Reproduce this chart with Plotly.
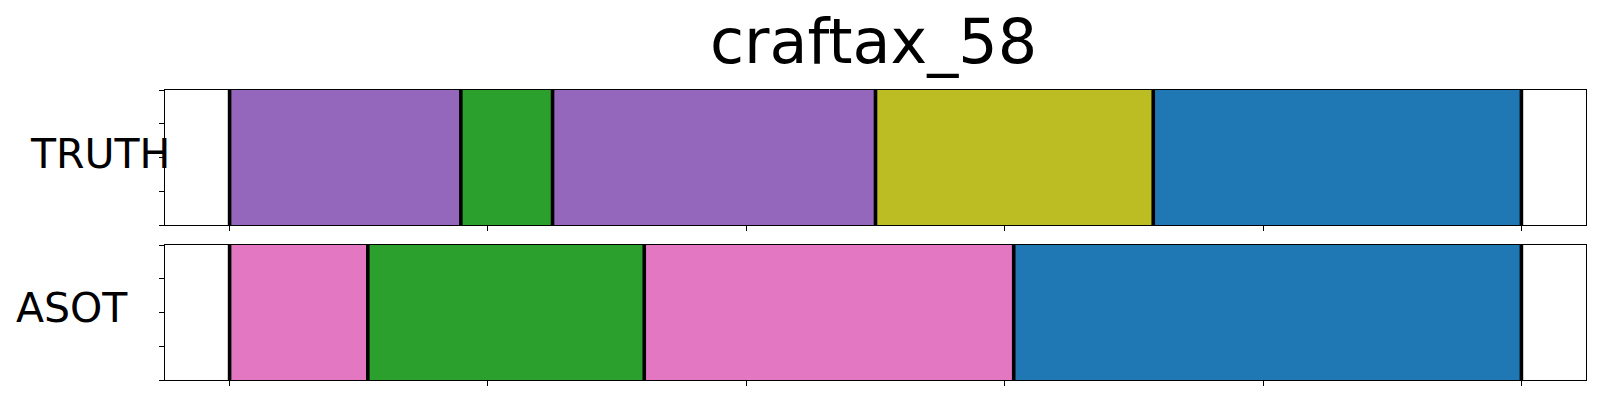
import plotly.graph_objects as go
from plotly.subplots import make_subplots

# Data: segment boundaries (in frame units) and labels for each row
rows = ["TRUTH", "ASOT"]
truth_bounds = [0, 17.9, 25.0, 50.0, 71.5, 100]
truth_colors = ["#9467bd", "#2ca02c", "#9467bd", "#bcbd22", "#1f77b4"]
asot_bounds = [0, 10.7, 32.1, 60.7, 100]
asot_colors = ["#e377c2", "#2ca02c", "#e377c2", "#1f77b4"]
x_ticks = [0, 20, 40, 60, 80, 100]
y_ticks = [0, 0.25, 0.5, 0.75, 1.0]
title = "craftax_58"

W, H = 1600, 400
ml, mr, mt, mb = 165, 14, 90, 20
plot_h = H - mt - mb
pw = W - ml - mr

fig = make_subplots(rows=2, cols=1, vertical_spacing=20 / plot_h)

def add_row(bounds, colors, row):
    starts = bounds[:-1]
    lens = [b - a for a, b in zip(bounds[:-1], bounds[1:])]
    fig.add_trace(go.Bar(
        y=[0.5] * len(starts), x=lens, base=starts, orientation="h",
        width=1.0, marker=dict(color=colors, line=dict(width=0)),
        showlegend=False, hoverinfo="skip"), row=row, col=1)
    lx, ly = [], []
    for b in bounds:
        lx += [b, b, None]
        ly += [0, 1, None]
    fig.add_trace(go.Scatter(x=lx, y=ly, mode="lines",
                             line=dict(color="black", width=3.6),
                             showlegend=False, hoverinfo="skip"), row=row, col=1)

add_row(truth_bounds, truth_colors, 1)
add_row(asot_bounds, asot_colors, 2)

axis_common = dict(showline=True, mirror=True, linecolor="black", linewidth=1.3,
                   showgrid=False, zeroline=False, ticks="outside", ticklen=5,
                   tickwidth=1, tickcolor="black", showticklabels=False)
for r in (1, 2):
    fig.update_xaxes(range=[-5, 105], tickvals=x_ticks, row=r, col=1, **axis_common)
    fig.update_yaxes(range=[0, 1], tickvals=y_ticks, row=r, col=1, **axis_common)

label_pos = [(28, 154), (14, 308)]
annotations = []
for text, (px, py) in zip(rows, label_pos):
    annotations.append(dict(text=text, x=(px - ml) / pw, y=(H - mb - py) / plot_h,
                            xref="paper", yref="paper", xanchor="left", yanchor="middle",
                            showarrow=False,
                            font=dict(size=41, family="DejaVu Sans", color="black")))

fig.update_layout(
    width=W, height=H,
    margin=dict(l=ml, r=mr, t=mt, b=mb),
    plot_bgcolor="white", paper_bgcolor="white",
    font=dict(family="DejaVu Sans", color="black"),
    bargap=0,
    title=dict(text=title, x=(ml + (W - mr)) / 2 / W - 2 / W, xanchor="center",
               y=1 - 63 / H, yanchor="bottom", yref="container",
               font=dict(size=62, family="DejaVu Sans", color="black")),
    annotations=annotations,
)

fig.write_html("out.html", config={"displayModeBar": False},
               post_script="document.body.style.margin='0';document.body.style.padding='0';")
